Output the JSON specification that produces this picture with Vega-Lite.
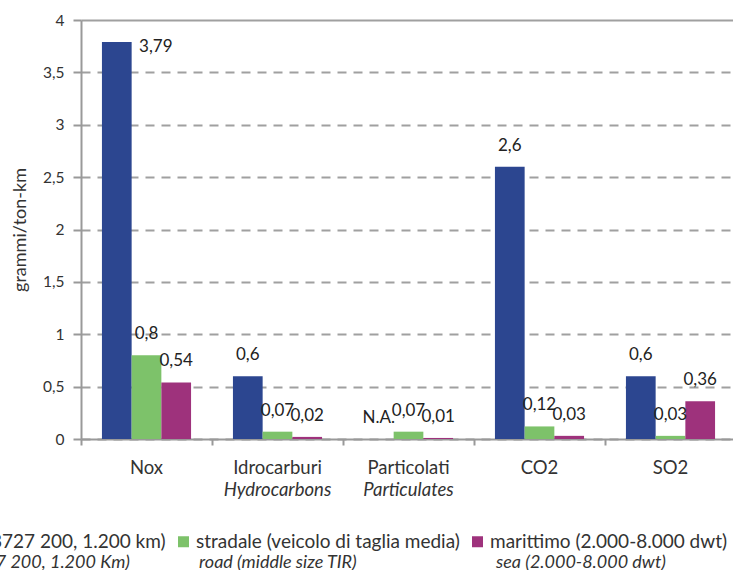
{
  "$schema": "https://vega.github.io/schema/vega-lite/v6.json",
  "width": 655,
  "height": 419,
  "autosize": {"type": "none"},
  "padding": {"left": 81, "top": 20, "right": 0, "bottom": 131},
  "background": "white",
  "config": {
    "view": {"stroke": null},
    "font": "Lato",
    "axis": {"labelFont": "Lato", "titleFont": "Lato"},
    "legend": {"labelFont": "Lato"}
  },
  "datasets": {
    "emissions": [
      {"cat": "Nox", "series": "aereo (B727 200, 1.200 km)", "value": 3.79, "label": "3,79"},
      {"cat": "Nox", "series": "stradale (veicolo di taglia media)", "value": 0.8, "label": "0,8"},
      {"cat": "Nox", "series": "marittimo (2.000-8.000 dwt)", "value": 0.54, "label": "0,54"},
      {"cat": "Idrocarburi", "series": "aereo (B727 200, 1.200 km)", "value": 0.6, "label": "0,6"},
      {"cat": "Idrocarburi", "series": "stradale (veicolo di taglia media)", "value": 0.07, "label": "0,07"},
      {"cat": "Idrocarburi", "series": "marittimo (2.000-8.000 dwt)", "value": 0.02, "label": "0,02"},
      {"cat": "Particolati", "series": "aereo (B727 200, 1.200 km)", "value": 0, "label": "N.A."},
      {"cat": "Particolati", "series": "stradale (veicolo di taglia media)", "value": 0.07, "label": "0,07"},
      {"cat": "Particolati", "series": "marittimo (2.000-8.000 dwt)", "value": 0.01, "label": "0,01"},
      {"cat": "CO2", "series": "aereo (B727 200, 1.200 km)", "value": 2.6, "label": "2,6"},
      {"cat": "CO2", "series": "stradale (veicolo di taglia media)", "value": 0.12, "label": "0,12"},
      {"cat": "CO2", "series": "marittimo (2.000-8.000 dwt)", "value": 0.03, "label": "0,03"},
      {"cat": "SO2", "series": "aereo (B727 200, 1.200 km)", "value": 0.6, "label": "0,6"},
      {"cat": "SO2", "series": "stradale (veicolo di taglia media)", "value": 0.03, "label": "0,03"},
      {"cat": "SO2", "series": "marittimo (2.000-8.000 dwt)", "value": 0.36, "label": "0,36"}
    ],
    "cats": [
      {"cat": "Nox", "en": ""},
      {"cat": "Idrocarburi", "en": "Hydrocarbons"},
      {"cat": "Particolati", "en": "Particulates"},
      {"cat": "CO2", "en": ""},
      {"cat": "SO2", "en": ""}
    ],
    "legend_en": [
      {"key": "air", "en": "air (B727 200, 1.200 Km)"},
      {"key": "road", "en": "road (middle size TIR)"},
      {"key": "sea", "en": "sea (2.000-8.000 dwt)"}
    ]
  },
  "resolve": {"scale": {"shape": "independent"}, "legend": {"shape": "independent"}},
  "layer": [
    {
      "data": {"name": "emissions"},
      "mark": {"type": "bar"},
      "encoding": {
        "x": {
          "field": "cat", "type": "nominal",
          "sort": ["Nox", "Idrocarburi", "Particolati", "CO2", "SO2"],
          "scale": {"paddingInner": 0, "paddingOuter": 0},
          "axis": {
            "title": null, "labelAngle": 0, "bandPosition": 0,
            "domainColor": "#999999", "domainWidth": 2,
            "tickColor": "#999999", "tickWidth": 2, "tickSize": 6,
            "labelFontSize": 18.5, "labelColor": "#333333", "labelPadding": 13,
            "grid": false
          }
        },
        "xOffset": {
          "field": "series", "type": "nominal",
          "sort": ["aereo (B727 200, 1.200 km)", "stradale (veicolo di taglia media)", "marittimo (2.000-8.000 dwt)"],
          "scale": {"paddingOuter": 0.705, "paddingInner": 0}
        },
        "y": {
          "field": "value", "type": "quantitative",
          "scale": {"domain": [0, 4]},
          "axis": {
            "title": "grammi/ton-km", "titleFontSize": 18, "titleFontWeight": "normal", "titleColor": "#333333", "titlePadding": 13,
            "values": [0, 0.5, 1, 1.5, 2, 2.5, 3, 3.5, 4],
            "labelExpr": "replace(format(datum.value, '~g'), '.', ',')",
            "labelFontSize": 15.5, "labelColor": "#333333", "labelPadding": 9,
            "domainColor": "#999999", "domainWidth": 2,
            "tickColor": "#999999", "tickWidth": 2, "tickSize": 8,
            "grid": true, "gridColor": "#a0a0a0", "gridWidth": 2,
            "gridDash": {"condition": {"test": "datum.value === 4", "value": []}, "value": [9, 7]}
          }
        },
        "color": {
          "field": "series", "type": "nominal",
          "scale": {
            "domain": ["aereo (B727 200, 1.200 km)", "stradale (veicolo di taglia media)", "marittimo (2.000-8.000 dwt)"],
            "range": ["#2c4690", "#7dc26a", "#9e327c"]
          },
          "legend": {
            "title": null, "orient": "none", "direction": "horizontal",
            "legendX": -170, "legendY": 512,
            "symbolType": "square", "symbolSize": 121, "symbolStrokeWidth": 0,
            "labelFontSize": 19, "labelColor": "#333333", "labelOffset": 3, "labelLimit": 400,
            "columnPadding": 8
          }
        }
      }
    },
    {
      "data": {"name": "emissions"},
      "transform": [{"filter": "datum.value < 3.5"}],
      "mark": {"type": "text", "dy": -16, "baseline": "alphabetic", "fontSize": 17, "color": "#222222"},
      "encoding": {
        "x": {"field": "cat", "type": "nominal", "sort": ["Nox", "Idrocarburi", "Particolati", "CO2", "SO2"]},
        "xOffset": {"field": "series", "type": "nominal", "sort": ["aereo (B727 200, 1.200 km)", "stradale (veicolo di taglia media)", "marittimo (2.000-8.000 dwt)"]},
        "y": {"field": "value", "type": "quantitative"},
        "text": {"field": "label"}
      }
    },
    {
      "data": {"name": "emissions"},
      "transform": [{"filter": "datum.value >= 3.5"}],
      "mark": {"type": "text", "dx": 39, "dy": 10, "baseline": "alphabetic", "fontSize": 17, "color": "#222222"},
      "encoding": {
        "x": {"field": "cat", "type": "nominal", "sort": ["Nox", "Idrocarburi", "Particolati", "CO2", "SO2"]},
        "xOffset": {"field": "series", "type": "nominal", "sort": ["aereo (B727 200, 1.200 km)", "stradale (veicolo di taglia media)", "marittimo (2.000-8.000 dwt)"]},
        "y": {"field": "value", "type": "quantitative"},
        "text": {"field": "label"}
      }
    },
    {
      "data": {"name": "cats"},
      "mark": {"type": "text", "dy": 51, "baseline": "middle", "fontSize": 18.5, "fontStyle": "italic", "color": "#333333"},
      "encoding": {
        "x": {"field": "cat", "type": "nominal", "sort": ["Nox", "Idrocarburi", "Particolati", "CO2", "SO2"]},
        "y": {"datum": 0},
        "text": {"field": "en"}
      }
    },
    {
      "data": {"name": "legend_en"},
      "transform": [{"filter": "datum.key == 'air'"}],
      "mark": {"type": "point", "opacity": 0},
      "encoding": {
        "shape": {"field": "en", "type": "nominal", "legend": {
          "title": null, "orient": "none", "legendX": -163, "legendY": 534,
          "symbolSize": 1, "symbolOpacity": 0, "labelOffset": 0, "labelLimit": 400,
          "labelFontSize": 18, "labelFontStyle": "italic", "labelColor": "#333333"
        }}
      }
    },
    {
      "data": {"name": "legend_en"},
      "transform": [{"filter": "datum.key == 'road'"}],
      "mark": {"type": "point", "opacity": 0},
      "encoding": {
        "shape": {"field": "en", "type": "nominal", "legend": {
          "title": null, "orient": "none", "legendX": 100, "legendY": 534,
          "symbolSize": 1, "symbolOpacity": 0, "labelOffset": 0, "labelLimit": 400,
          "labelFontSize": 18, "labelFontStyle": "italic", "labelColor": "#333333"
        }}
      }
    },
    {
      "data": {"name": "legend_en"},
      "transform": [{"filter": "datum.key == 'sea'"}],
      "mark": {"type": "point", "opacity": 0},
      "encoding": {
        "shape": {"field": "en", "type": "nominal", "legend": {
          "title": null, "orient": "none", "legendX": 397, "legendY": 534,
          "symbolSize": 1, "symbolOpacity": 0, "labelOffset": 0, "labelLimit": 400,
          "labelFontSize": 18, "labelFontStyle": "italic", "labelColor": "#333333"
        }}
      }
    }
  ]
}
